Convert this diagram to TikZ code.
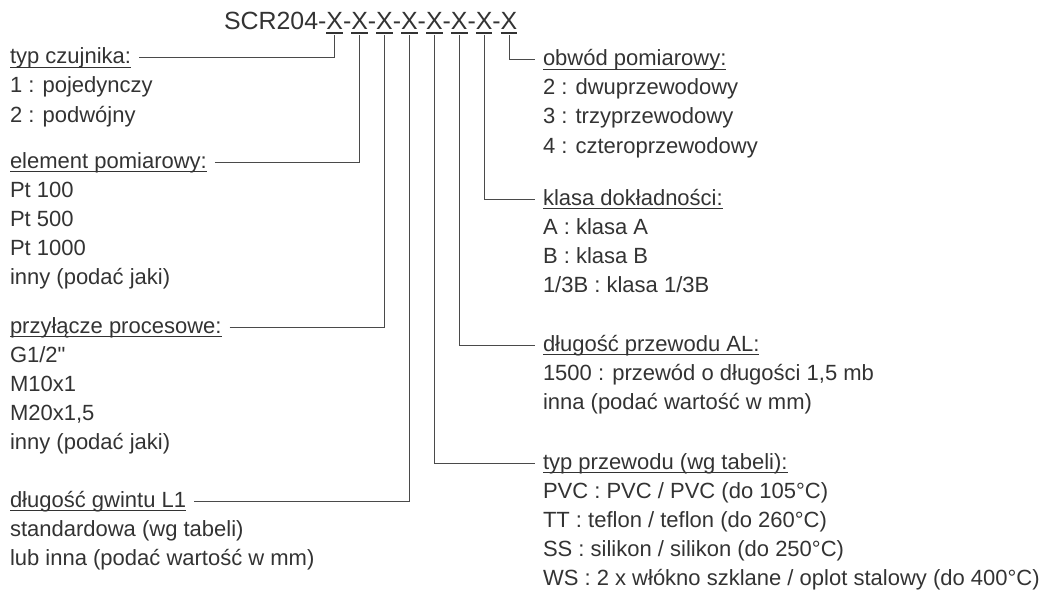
\documentclass[tikz,border=0pt]{standalone}
\usepackage{fontspec}
\setmainfont{Liberation Sans}
\usetikzlibrary{positioning}
\definecolor{inkGray}{HTML}{333333}
\definecolor{leadGray}{HTML}{4A4A4A}
\tikzset{
  txt/.style={inner sep=0pt, outer sep=0pt, anchor=base west, text=inkGray,
              font=\fontsize{22}{29}\selectfont},
  ttl/.style={inner sep=0pt, outer sep=0pt, anchor=base west, text=inkGray,
              font=\fontsize{24.9}{30}\selectfont},
  lead/.style={leadGray, line width=1pt},
  uline/.style={inkGray, line width=1.6pt},
}

\begin{document}
\begin{tikzpicture}[x=1pt, y=-1pt]
  \useasboundingbox (0,0) rectangle (1040,591);

  % kod zamowieniowy
  \node[ttl] (x0) at (224,30) {SCR204};
  \foreach \i [count=\j from 0] in {1,...,8} {
    \node[ttl, right=0pt of x\j.base east, anchor=base west] (d\i) {-};
    \node[ttl, right=0pt of d\i.base east, anchor=base west] (x\i) {X};
    \draw[uline] ([yshift=-3pt]x\i.base west) -- ([yshift=-3pt]x\i.base east);
  }

  % lewa kolumna
  \node[txt] (typ) at (10,64) {typ czujnika:};
  \foreach \t [count=\k] in {1 : pojedynczy, 2 : podwójny}
    \node[txt] (typ-\k) at (10,64+29*\k) {\t};

  \node[txt] (elem) at (10,168) {element pomiarowy:};
  \foreach \t [count=\k] in {Pt 100, Pt 500, Pt 1000, inny (podać jaki)}
    \node[txt] (elem-\k) at (10,168+29*\k) {\t};

  \node[txt] (przyl) at (10,333) {przyłącze procesowe:};
  \foreach \t [count=\k] in {G1/2\textquotedbl, M10x1, {M20x1,5}, inny (podać jaki)}
    \node[txt] (przyl-\k) at (10,333+29*\k) {\t};

  \node[txt] (gwint) at (10,507) {długość gwintu L1};
  \foreach \t [count=\k] in {standardowa (wg tabeli), lub inna (podać wartość w mm)}
    \node[txt] (gwint-\k) at (10,507+29*\k) {\t};

  % prawa kolumna
  \node[txt] (obw) at (543,66) {obwód pomiarowy:};
  \foreach \t [count=\k] in {2 : dwuprzewodowy, 3 : trzyprzewodowy, 4 : czteroprzewodowy}
    \node[txt] (obw-\k) at (543,66+29*\k) {\t};

  \node[txt] (klasa) at (543,205) {klasa dokładności:};
  \foreach \t [count=\k] in {A : klasa A, B : klasa B, 1/3B : klasa 1/3B}
    \node[txt] (klasa-\k) at (543,205+29*\k) {\t};

  \node[txt] (al) at (543,351) {długość przewodu AL:};
  \foreach \t [count=\k] in {{1500 : przewód o długości 1,5 mb}, inna (podać wartość w mm)}
    \node[txt] (al-\k) at (543,351+29*\k) {\t};

  \node[txt] (typp) at (543,469) {typ przewodu (wg tabeli):};
  \foreach \t [count=\k] in {PVC : PVC / PVC (do 105°C), TT : teflon / teflon (do 260°C),
      SS : silikon / silikon (do 250°C), WS : 2 x włókno szklane / oplot stalowy (do 400°C)}
    \node[txt] (typp-\k) at (543,469+29*\k) {\t};

  % podkreslenia naglowkow
  \foreach \h in {typ, elem, przyl, gwint, obw, klasa, al, typp}
    \draw[uline] ([yshift=-3.5pt]\h.base west) -- ([yshift=-3.5pt]\h.base east);

  % linie odniesienia
  \draw[lead] ([xshift=8pt, yshift=6pt]typ.base east)   -| ([yshift=-5pt]x1.south);
  \draw[lead] ([xshift=8pt, yshift=6pt]elem.base east)  -| ([yshift=-5pt]x2.south);
  \draw[lead] ([xshift=8pt, yshift=6pt]przyl.base east) -| ([yshift=-5pt]x3.south);
  \draw[lead] ([xshift=8pt, yshift=6pt]gwint.base east) -| ([yshift=-5pt]x4.south);
  \draw[lead] ([yshift=-5pt]x5.south) |- ([xshift=-8pt, yshift=6pt]typp.base west);
  \draw[lead] ([yshift=-5pt]x6.south) |- ([xshift=-8pt, yshift=6pt]al.base west);
  \draw[lead] ([yshift=-5pt]x7.south) |- ([xshift=-8pt, yshift=6pt]klasa.base west);
  \draw[lead] ([yshift=-5pt]x8.south) |- ([xshift=-8pt, yshift=6pt]obw.base west);
\end{tikzpicture}
\end{document}
